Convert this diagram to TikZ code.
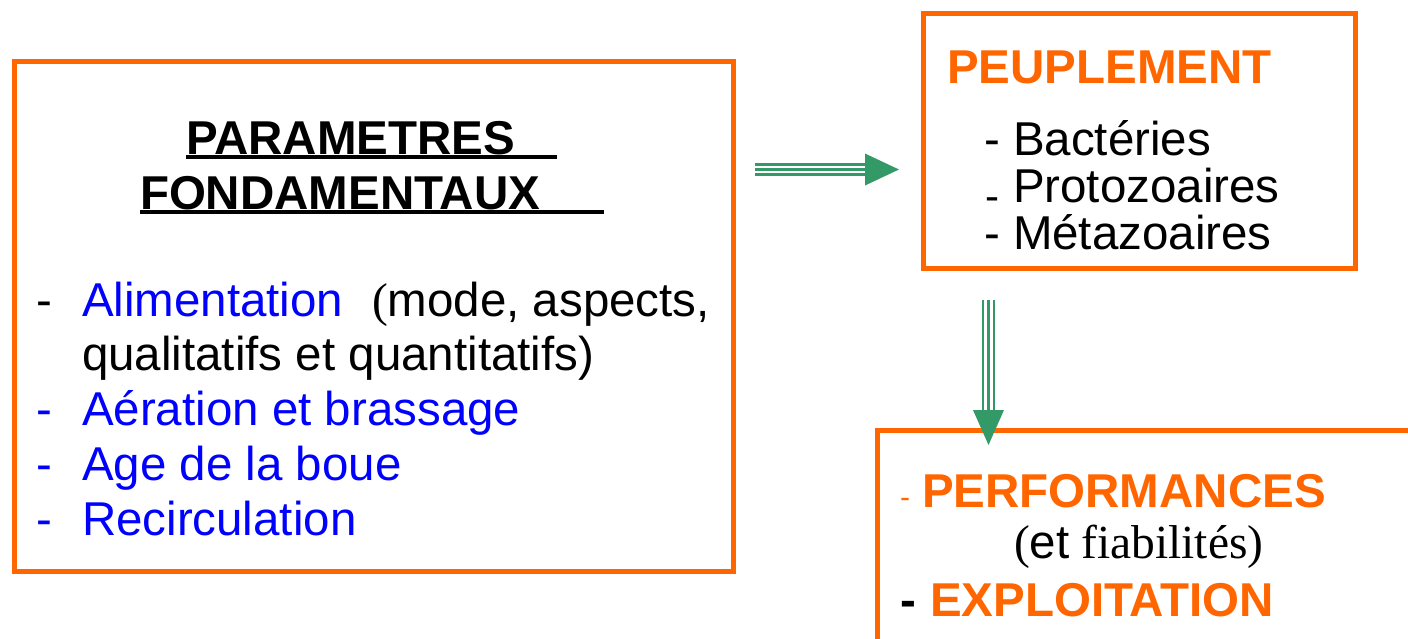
\documentclass[tikz,border=0pt]{standalone}
\usepackage{fontspec}
\setmainfont{Liberation Sans}
\newfontfamily\seriffont{Liberation Serif}
\definecolor{orng}{HTML}{FF6600}
\definecolor{grn}{HTML}{339966}
\definecolor{blu}{HTML}{0000FF}
\tikzset{
  frame/.style={draw=orng, line width=5pt},
  txt/.style={anchor=base west, inner sep=0pt, outer sep=0pt, font=\fontsize{47.5}{55}\selectfont},
  btxt/.style={txt, font=\fontsize{47.5}{55}\selectfont\bfseries},
  rail/.style={draw=grn, line width=2.6pt},
  head/.style={fill=grn, draw=none},
  uline/.style={draw=black, line width=4pt},
}
\begin{document}
\begin{tikzpicture}[x=1pt,y=-1pt]
\useasboundingbox (0,0) rectangle (1408,638);
\clip (0,0) rectangle (1408,638);
% boxes
\draw[frame] (14,61) rectangle (733,571);
\coordinate (leftbox) at (373,316);
\draw[frame] (923,13) rectangle (1355,268);
\coordinate (topbox) at (1139,140);
\draw[frame] (877,430) rectangle (1430,670);
\coordinate (botbox) at (1150,540);

% left box text
\node[btxt] (t1) at (186,154) {PARAMETRES};
\node[btxt] (t2) at (140,209) {FONDAMENTAUX};
\draw[uline] (186,157) -- (557,157);
\draw[uline] (140,212) -- (604,212);

\node[txt] (d1) at (36,316) {-};
\node[txt, text=blu] (a1) at (82,316) {Alimentation};
\node[txt] (a1b) at (372,316) {{\seriffont(}mode, aspects,};
\node[txt] (a2) at (82,370) {qualitatifs et quantitatifs)};
\node[txt, text=blu] (d3) at (36,425) {-};
\node[txt, text=blu] (a3) at (82,425) {Aération et brassage};
\node[txt, text=blu] (d4) at (36,480) {-};
\node[txt, text=blu] (a4) at (82,480) {Age de la boue};
\node[txt, text=blu] (d5) at (36,535) {-};
\node[txt, text=blu] (a5) at (82,535) {Recirculation};

% top right box text
\node[btxt, text=orng] (p0) at (947,83) {PEUPLEMENT};
\node[txt] (pd1) at (984,155) {-};
\node[txt] (p1) at (1013,155) {Bactéries};
\node[txt, font=\fontsize{42}{42}\selectfont] (pd2) at (985,210) {-};
\node[txt] (p2) at (1013,202) {Protozoaires};
\node[txt] (pd3) at (984,249) {-};
\node[txt] (p3) at (1013,249) {Métazoaires};

% bottom right box text
\node[txt, text=orng, font=\fontsize{30}{30}\selectfont] (e0) at (900,507) {-};
\node[btxt, text=orng] (e1) at (922,507) {PERFORMANCES};
\node[txt] (e2) at (1014,558) {{\seriffont(}et{\seriffont\ fiabilités)}};
\node[btxt] (e3d) at (900,616) {-};
\node[btxt, text=orng] (e3) at (930,616) {EXPLOITATION};

% arrows
\coordinate (h0) at (755,169.5);
\coordinate (h1) at (865,169.5);
\coordinate (htip) at (899,169.5);
\foreach \dy in {-5,0,5}
  \draw[rail] ([yshift=\dy pt]h0) -- ([yshift=\dy pt]h1);
\fill[head] ([yshift=-16pt]h1) -- (htip) -- ([yshift=16pt]h1) -- cycle;

\coordinate (v0) at (988.5,300);
\coordinate (v1) at (988.5,410);
\coordinate (vtip) at (988.5,445);
\foreach \dx in {-5.5,0,5.5}
  \draw[rail] ([xshift=\dx pt]v0) -- ([xshift=\dx pt]v1);
\fill[head] ([xshift=-15.5pt]v1) -- (vtip) -- ([xshift=15.5pt]v1) -- cycle;
\end{tikzpicture}
\end{document}
